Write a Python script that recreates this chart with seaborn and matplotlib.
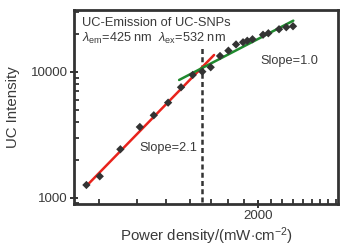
import numpy as np
import pandas as pd
import seaborn as sns
import matplotlib
matplotlib.use("Agg")
import matplotlib.pyplot as plt
from matplotlib.ticker import FixedLocator, NullFormatter, LogLocator

# ---- data ----
power = [547, 605, 707, 819, 910, 1014, 1118, 1221, 1313, 1399, 1501, 1599,
         1694, 1786, 1844, 1918, 2077, 2162, 2344, 2476, 2605]
intensity = [1262, 1479, 2427, 3651, 4524, 5701, 7556, 9465, 10055, 10900, 13400,
             14770, 16550, 17230, 17710, 18200, 19770, 20320, 21870, 22680, 23100]

fit_low_x = [547, 1435]
fit_low_y = [1239, 13650]
fit_high_x = [1102, 2611]
fit_high_y = [8636, 25590]

threshold_x = [1313, 1313]
threshold_y = [930, 15700]

x_major = [2000]
x_minor = [600, 800, 1000, 1200, 1400, 1600, 1800, 2200, 2400, 2600, 2800, 3000,
           3200, 3400, 3600]
y_major = [1000, 10000]

title_lines = ["UC-Emission of UC-SNPs",
               r"$\mathit{\lambda}_{\mathrm{em}}$=425 nm  $\mathit{\lambda}_{\mathrm{ex}}$=532 nm"]
slope_labels = ["Slope=2.1", "Slope=1.0"]

sns.set_theme(style="white")
plt.rcParams["font.family"] = ["Liberation Sans", "DejaVu Sans"]
plt.rcParams["mathtext.fontset"] = "custom"
plt.rcParams["mathtext.rm"] = "Liberation Sans"
plt.rcParams["mathtext.it"] = "Liberation Sans:italic"
plt.rcParams["xtick.bottom"] = True
plt.rcParams["ytick.left"] = True

txt = "#3a3a3a"
fig = plt.figure(figsize=(3.48, 2.5), dpi=100)
ax = fig.add_axes([0.2126, 0.184, 0.7585, 0.776])

df = pd.DataFrame({"p": power, "i": intensity})
sns.lineplot(x=fit_low_x, y=fit_low_y, ax=ax, color="#e8231c", lw=1.8, zorder=2)
sns.lineplot(x=fit_high_x, y=fit_high_y, ax=ax, color="#1f8a2e", lw=1.8, zorder=2)
sns.scatterplot(data=df, x="p", y="i", ax=ax, marker="D", s=18, color="#333333",
                edgecolor="none", zorder=3)
ax.plot(threshold_x, threshold_y, color="#333333", lw=1.8,
        linestyle=(0, (2.0, 1.3)), zorder=1)

ax.set_xscale("log")
ax.set_yscale("log")
ax.set_xlim(498, 3658)
ax.set_ylim(891, 31100)

ax.set_xticks(x_major)
ax.set_xticks(x_minor, minor=True)
ax.xaxis.set_minor_formatter(NullFormatter())
ax.set_xticklabels([str(v) for v in x_major])
ax.yaxis.set_major_locator(FixedLocator(y_major))
ax.yaxis.set_minor_locator(LogLocator(base=10, subs=np.arange(2, 10)))
ax.yaxis.set_minor_formatter(NullFormatter())
ax.set_yticklabels([str(v) for v in y_major])

ax.tick_params(axis="both", which="major", direction="inout", length=6, width=1.4,
               color="#333333", labelsize=9.6, labelcolor=txt, pad=1.5,
               bottom=True, left=True)
ax.tick_params(axis="both", which="minor", direction="in", length=3.8, width=1.3,
               color="#333333", bottom=True, left=True)

for s in ax.spines.values():
    s.set_color("#333333")
    s.set_linewidth(2.0)
    s.set_zorder(0.5)

ax.set_xlabel(r"Power density/(mW$\cdot$cm$^{-2}$)", fontsize=10.8, color=txt, labelpad=2.5)
ax.set_ylabel("UC Intensity", fontsize=10.8, color=txt, labelpad=8)

ax.text(0.031, 0.932, title_lines[0], transform=ax.transAxes, fontsize=9.3, color=txt,
        ha="left", va="center")
ax.text(0.031, 0.855, title_lines[1], transform=ax.transAxes, fontsize=9.2, color=txt,
        ha="left", va="center")
ax.text(0.356, 0.289, slope_labels[0], transform=ax.transAxes, fontsize=9.2, color=txt,
        ha="center", va="center")
ax.text(0.814, 0.735, slope_labels[1], transform=ax.transAxes, fontsize=9.2, color=txt,
        ha="center", va="center")

fig.savefig("out.png", dpi=100)
